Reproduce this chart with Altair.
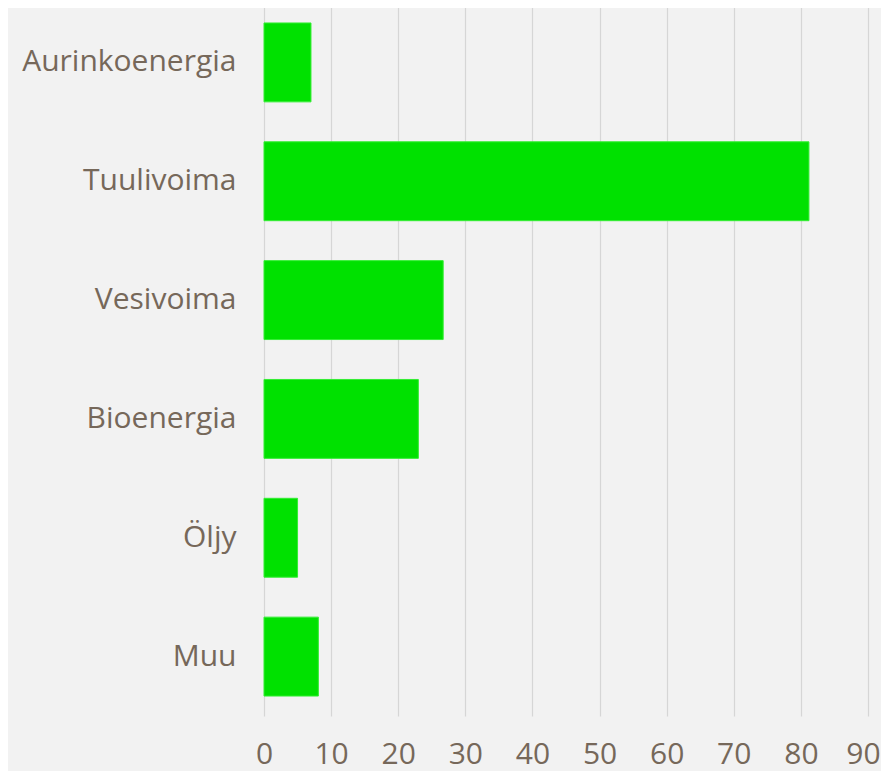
import altair as alt
import pandas as pd

categories = ["Aurinkoenergia", "Tuulivoima", "Vesivoima", "Bioenergia", "Öljy", "Muu"]
values = [7.0, 81.2, 26.7, 23.0, 5.0, 8.1]
x_ticks = [0, 10, 20, 30, 40, 50, 60, 70, 80, 90]

df = pd.DataFrame({"cat": categories, "val": values})

TEXT = "#76685a"
FONT = "Open Sans"

chart = alt.Chart(df).mark_bar(color="#00e100", stroke="#33ee33", strokeWidth=1).encode(
    x=alt.X("val:Q",
            scale=alt.Scale(domain=[0, 90], nice=False, zero=True),
            axis=alt.Axis(values=x_ticks, title=None, grid=True, gridColor="#d6d6d6",
                          gridWidth=1.2, domain=False, ticks=False, labelPadding=23,
                          labelFont=FONT, labelFontSize=30, labelColor=TEXT,
                          labelFlush=False,
                          labelOffset={"condition": {"test": "datum.value === 90", "value": -5},
                                       "value": 0})),
    y=alt.Y("cat:N", sort=categories,
            scale=alt.Scale(paddingInner=0.336, paddingOuter=0.168),
            axis=alt.Axis(title=None, domain=False, ticks=False, grid=False,
                          labelPadding=28, labelFont=FONT, labelFontSize=30,
                          labelColor=TEXT, labelLimit=300)),
).properties(
    width=604,
    height=713,
    background="#f2f2f2",
    padding={"left": 256, "top": -5, "right": 13, "bottom": 60},
    autosize=alt.AutoSizeParams(type="none"),
).configure_view(stroke=None, fill="#f2f2f2")

chart.save("out.html", embed_options={"renderer": "svg", "actions": False})
